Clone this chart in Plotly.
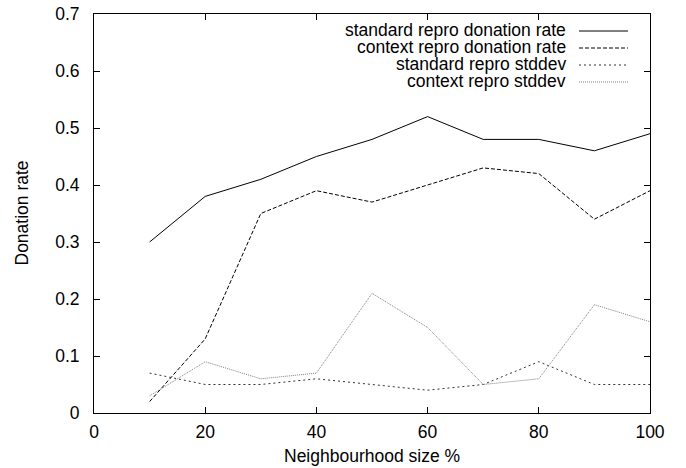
import plotly.graph_objects as go

x_vals = [10, 20, 30, 40, 50, 60, 70, 80, 90, 100]
standard_rate = [0.30, 0.38, 0.41, 0.45, 0.48, 0.52, 0.48, 0.48, 0.46, 0.49]
context_rate = [0.02, 0.13, 0.35, 0.39, 0.37, 0.40, 0.43, 0.42, 0.34, 0.39]
standard_sd = [0.07, 0.05, 0.05, 0.06, 0.05, 0.04, 0.05, 0.09, 0.05, 0.05]
context_sd = [0.03, 0.09, 0.06, 0.07, 0.21, 0.15, 0.05, 0.06, 0.19, 0.16]

names = ["standard repro donation rate", "context repro donation rate",
         "standard repro stddev", "context repro stddev"]
series = [standard_rate, context_rate, standard_sd, context_sd]
colors = ["#000000", "#000000", "#333333", "#808080"]
dashes = ["solid", "4px,2px", "2px,3px", "1px,1px"]

FONT = "Liberation Sans, Arial, Helvetica, sans-serif"
FS = 17.5

W, H = 686, 468
L, R, T, B = 94, 36, 14, 55
pw, ph = W - L - R, H - T - B

def px(xp):
    return (xp - L) / pw

def py(yp):
    return 1 - (yp - T) / ph

fig = go.Figure()
for n, s, c, d in zip(names, series, colors, dashes):
    fig.add_trace(go.Scatter(x=x_vals, y=s, mode="lines", name=n,
                             line=dict(color=c, width=1, dash=d),
                             showlegend=False))

# gnuplot-style key: right-aligned text, line sample to its right
leg_y = [30, 47, 64, 81]
for n, c, d, yy in zip(names, colors, dashes, leg_y):
    fig.add_annotation(xref="paper", yref="paper", x=px(568), y=py(yy),
                       text=n, showarrow=False, xanchor="right", yanchor="middle",
                       font=dict(family=FONT, size=FS, color="#000"))
    fig.add_shape(type="line", xref="paper", yref="paper",
                  x0=px(579), x1=px(628), y0=py(yy + 1), y1=py(yy + 1),
                  line=dict(color=c, width=1, dash=d))

# axis titles
fig.add_annotation(xref="paper", yref="paper", x=px(21), y=0.5,
                   text="Donation rate", textangle=-90, showarrow=False,
                   xanchor="center", yanchor="middle",
                   font=dict(family=FONT, size=FS, color="#000"))
fig.add_annotation(xref="paper", yref="paper", x=0.5, y=py(456),
                   text="Neighbourhood size %", showarrow=False,
                   xanchor="center", yanchor="middle",
                   font=dict(family=FONT, size=FS, color="#000"))

axis_common = dict(showline=True, linecolor="#000", linewidth=1, mirror="ticks",
                   ticks="inside", ticklen=6, tickcolor="#000", tickwidth=1,
                   showgrid=False, zeroline=False, ticklabeloverflow="allow",
                   automargin=False,
                   tickfont=dict(family=FONT, size=FS, color="#000"))

fig.update_layout(
    width=W, height=H,
    margin=dict(l=L, r=R, t=T, b=B),
    paper_bgcolor="white", plot_bgcolor="white",
    xaxis=dict(range=[0, 100], tickvals=[0, 20, 40, 60, 80, 100],
               ticklabelstandoff=3, **axis_common),
    yaxis=dict(range=[0, 0.7], tickvals=[0, 0.1, 0.2, 0.3, 0.4, 0.5, 0.6, 0.7],
               ticktext=["0", "0.1", "0.2", "0.3", "0.4", "0.5", "0.6", "0.7"],
               ticklabelstandoff=10, **axis_common),
)

# remove the browser's default 8px body margin so the figure fills the window;
# hide the hover toolbar
fig.write_html("out.html", config={"displayModeBar": False},
               post_script="document.body.style.margin='0';")
